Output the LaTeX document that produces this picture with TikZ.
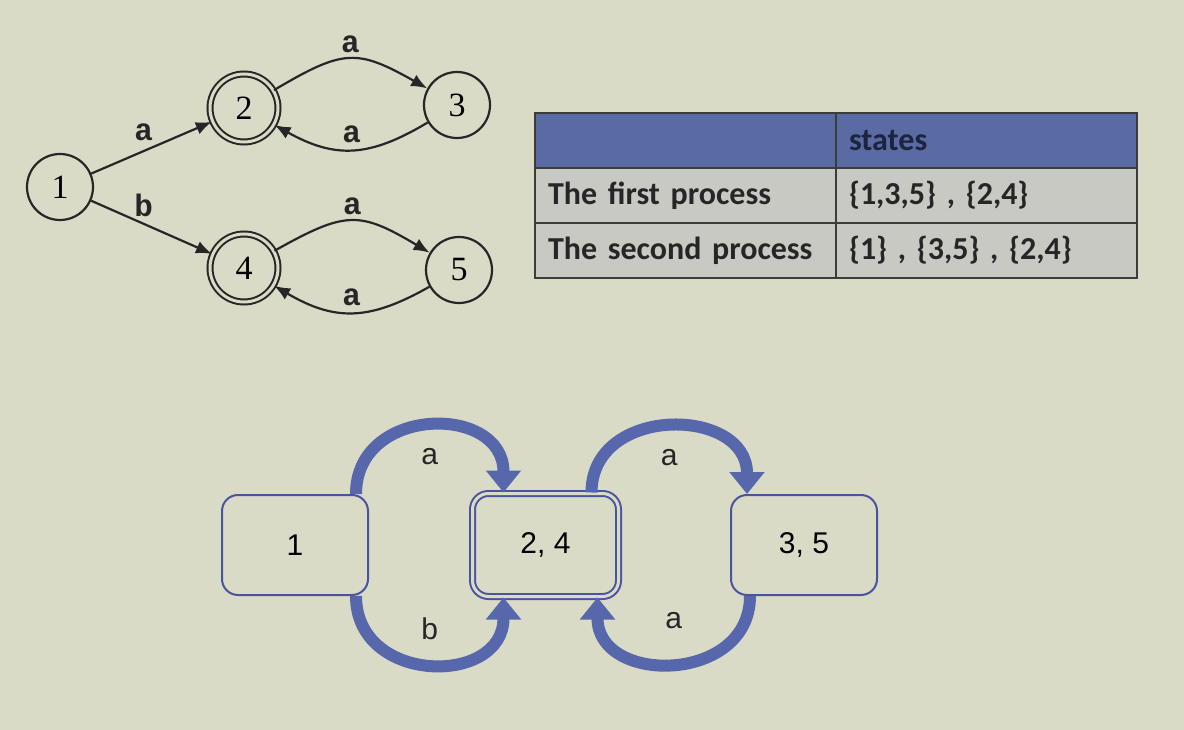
\documentclass[tikz,border=0pt]{standalone}
\usepackage{fontspec}
\setmainfont{Liberation Serif}
\newfontfamily\calibri{Carlito}
\newfontfamily\arial{Liberation Sans}
\newfontfamily\tipo{Liberation Mono}
\usetikzlibrary{arrows.meta,positioning}
\definecolor{fondo}{HTML}{DADBC7}
\definecolor{tinta}{HTML}{262626}
\definecolor{azul}{HTML}{5767AC}
\definecolor{borde}{HTML}{4A549E}
\definecolor{cabeza}{HTML}{5A6AA2}
\definecolor{gris}{HTML}{C8C9C3}
\definecolor{marino}{HTML}{1D2440}

\begin{document}
\begin{tikzpicture}[x=1pt, y=-1pt,
      estado/.style={circle, draw=tinta, line width=2.2pt, minimum size=66pt, inner sep=0pt,
                     font=\fontsize{34}{34}\selectfont},
      final/.style={estado, double=fondo, double distance=3pt, line width=2pt, minimum size=68pt},
      trans/.style={-{Latex[length=16pt,width=13pt]}, draw=tinta, line width=2.2pt},
      letra/.style={font=\tipo\bfseries\fontsize{31}{31}\selectfont, text=tinta},
      celda/.style={rectangle, draw=tinta!90, line width=1.3pt, fill=gris, outer sep=0pt,
                    text width=275pt, inner xsep=13pt, inner ysep=0pt, align=left,
                    minimum height=55pt, font=\calibri\bfseries\fontsize{32}{36}\selectfont,
                    text=black!85},
      cabecera/.style={celda, fill=cabeza, text=marino},
      caja/.style={rectangle, rounded corners=16pt, draw=borde, line width=2pt, fill=fondo,
                   minimum width=146pt, minimum height=100pt, font=\arial\fontsize{30}{30}\selectfont},
      cajadoble/.style={caja, double=fondo, double distance=3pt, minimum height=103pt},
      flechota/.style={-{Triangle[width=34pt,length=22pt]}, draw=azul, line width=12pt},
      etiqueta/.style={font=\arial\fontsize{30}{30}\selectfont, text=black!85}]

    \fill[fondo] (0,0) rectangle (1184,730);

    % automata de partida
    \node[estado] (e1) at (60,187) {1};
    \node[final] (e2) at (244,108) {2};
    \node[estado] (e3) at (457,105) {3};
    \node[final] (e4) at (244,268) {4};
    \node[estado] (e5) at (459,270) {5};

    \draw[trans] (e1) -- (e2) node[letra, midway, above=2pt, xshift=-8pt] {a};
    \draw[trans] (e1) -- (e4) node[letra, midway, above=6pt, xshift=-8pt] {b};
    \draw[trans] (e2) to[bend left=30, looseness=1.35] node[letra, above=2pt] {a} (e3);
    \draw[trans] (e3) to[bend left=30, looseness=1.15] node[letra, above=2pt] {a} (e2);
    \draw[trans] (e4) to[bend left=30, looseness=1.35] node[letra, above=2pt] {a} (e5);
    \draw[trans] (e5) to[bend left=30, looseness=1.15] node[letra, above=2pt] {a} (e4);

    % tabla de particiones
    \node[cabecera] (t00) at (685.5,140.5) {};
    \node[cabecera, right=0pt of t00] (t01) {states};
    \node[celda, below=0pt of t00] (t10) {The first process};
    \node[celda, right=0pt of t10] (t11) {\{1,3,5\} , \{2,4\}};
    \node[celda, below=0pt of t10] (t20) {The second process};
    \node[celda, right=0pt of t20] (t21) {\{1\} , \{3,5\} , \{2,4\}};

    % automata minimo
    \node[caja] (uno) at (295,545) {1};
    \node[cajadoble] (dos) at (545.5,545) {2, 4};
    \node[caja] (tres) at (804,545) {3, 5};

    \draw[flechota] ([xshift=-13pt]uno.north east) .. controls +(0,-89) and +(0,-89) ..
        ([xshift=32pt]dos.north west) node[etiqueta, pos=0.5, yshift=-30pt] {a};
    \draw[flechota] ([xshift=-13pt]uno.south east) .. controls +(0,89) and +(0,89) ..
        ([xshift=32pt]dos.south west) node[etiqueta, pos=0.5, yshift=35pt] {b};
    \draw[flechota] ([xshift=-28pt]dos.north east) .. controls +(0,-88) and +(0,-88) ..
        ([xshift=17pt]tres.north west) node[etiqueta, pos=0.5, yshift=-30pt] {a};
    \draw[flechota] ([xshift=20pt]tres.south west) .. controls +(0,88) and +(0,88) ..
        ([xshift=-22pt]dos.south east) node[etiqueta, pos=0.5, yshift=42pt] {a};
  \end{tikzpicture}
\end{document}
